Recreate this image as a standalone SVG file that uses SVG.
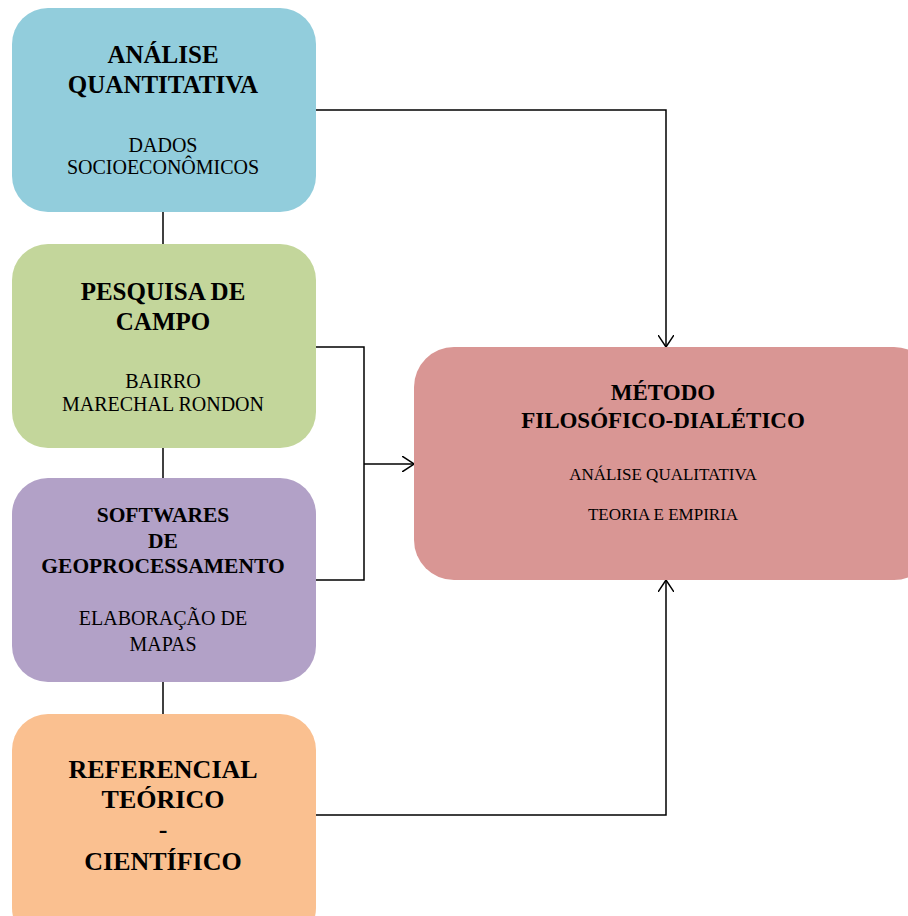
<svg xmlns="http://www.w3.org/2000/svg" width="908" height="916" viewBox="0 0 908 916">
<defs>
<style>
.t{font-family:"Liberation Serif","Times New Roman",serif;font-weight:bold;font-size:23px;fill:#000;text-anchor:middle}
.s{font-family:"Liberation Serif","Times New Roman",serif;font-size:20px;fill:#000;text-anchor:middle}
.s2{font-family:"Liberation Serif","Times New Roman",serif;font-size:17px;fill:#000;text-anchor:middle}
.ln{fill:none;stroke:#000;stroke-width:1.5}
</style>
<marker id="ah" viewBox="0 0 12 16" refX="12" refY="8" markerWidth="12" markerHeight="16" markerUnits="userSpaceOnUse" orient="auto">
<path d="M0,0 L12,8 L0,16" fill="none" stroke="#000" stroke-width="1.5"/>
</marker>
</defs>
<rect width="908" height="916" fill="#fff"/>
<g id="connectors">
<path class="ln" d="M316,110 H666 V347" marker-end="url(#ah)"/>
<path class="ln" d="M163,212 V244"/>
<path class="ln" d="M163,448 V478"/>
<path class="ln" d="M163,682 V714"/>
<path class="ln" d="M316,347 H364 V580 H316"/>
<path class="ln" d="M364,464 H414" marker-end="url(#ah)"/>
<path class="ln" d="M316,815 H666 V580" marker-end="url(#ah)"/>
</g>
<g id="analise-quantitativa">
<rect x="12" y="8" width="304" height="204" rx="36" fill="#92CDDC"/>
<text class="t" x="163" y="63" style="font-size:25px">ANÁLISE</text>
<text class="t" x="163" y="93" style="font-size:25px">QUANTITATIVA</text>
<text class="s" x="163" y="152">DADOS</text>
<text class="s" x="163" y="174">SOCIOECONÔMICOS</text>
</g>
<g id="pesquisa-campo">
<rect x="12" y="244" width="304" height="204" rx="36" fill="#C3D69B"/>
<text class="t" x="163" y="300" style="font-size:25px">PESQUISA DE</text>
<text class="t" x="163" y="330" style="font-size:25px">CAMPO</text>
<text class="s" x="163" y="388">BAIRRO</text>
<text class="s" x="163" y="411">MARECHAL RONDON</text>
</g>
<g id="softwares">
<rect x="12" y="478" width="304" height="204" rx="36" fill="#B2A1C7"/>
<text class="t" x="163" y="522" style="font-size:21.5px">SOFTWARES</text>
<text class="t" x="163" y="548" style="font-size:21.5px">DE</text>
<text class="t" x="163" y="573" style="font-size:21.5px">GEOPROCESSAMENTO</text>
<text class="s" x="163" y="625">ELABORAÇÃO DE</text>
<text class="s" x="163" y="651">MAPAS</text>
</g>
<g id="referencial">
<rect x="12" y="714" width="304" height="230" rx="36" fill="#FAC090"/>
<text class="t" x="163" y="778" style="font-size:26px">REFERENCIAL</text>
<text class="t" x="163" y="808" style="font-size:26px">TEÓRICO</text>
<text class="t" x="163" y="838" style="font-size:26px">-</text>
<text class="t" x="163" y="870" style="font-size:26px">CIENTÍFICO</text>
</g>
<g id="metodo">
<rect x="414" y="347" width="520" height="233" rx="40" fill="#D99694"/>
<text class="t" x="663" y="400">MÉTODO</text>
<text class="t" x="663" y="428">FILOSÓFICO-DIALÉTICO</text>
<text class="s2" x="663" y="480">ANÁLISE QUALITATIVA</text>
<text class="s2" x="663" y="520">TEORIA E EMPIRIA</text>
</g>
</svg>
